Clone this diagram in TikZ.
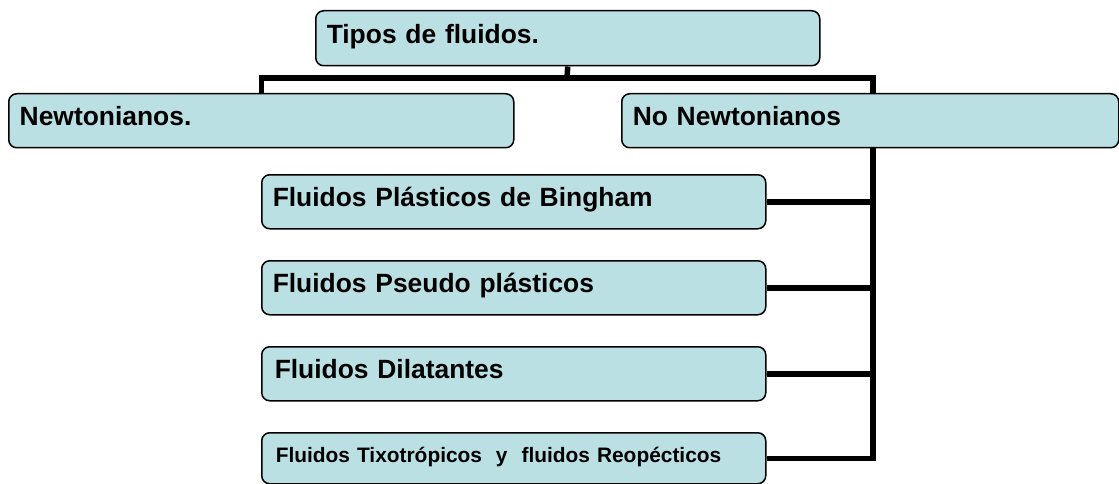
\documentclass[tikz,border=0pt]{standalone}
\usepackage{fontspec}
\setmainfont{Liberation Sans}
\definecolor{boxfill}{RGB}{187,224,227}
\begin{document}
\begin{tikzpicture}[x=1pt,y=-1pt,
  box/.style={draw=black, line width=1.5pt, fill=boxfill, rounded corners=8pt,
    anchor=north west, inner xsep=11pt, inner ysep=0pt, align=left,
    font=\fontsize{26.4}{30}\selectfont\bfseries, text height=20pt, text depth=10pt},
  conn/.style={line width=5.5pt}]
\useasboundingbox (0,0) rectangle (1119,484);
\node[box, text width=482pt, minimum height=55pt] (top) at (315,10) {Tipos de fluidos.};
\node[box, text width=483pt, minimum height=54pt] (newt) at (8,93) {Newtonianos.};
\node[box, text width=475pt, minimum height=54pt] (nonewt) at (621,93) {No Newtonianos};
\node[box, text width=482pt, minimum height=54pt] (bing) at (261,174) {Fluidos Plásticos de Bingham};
\node[box, text width=482pt, minimum height=54pt] (pseudo) at (261,260) {Fluidos Pseudo plásticos};
\node[box, text width=478pt, inner xsep=13pt, minimum height=54pt] (dilat) at (261,346) {Fluidos Dilatantes};
\node[box, text width=476pt, inner xsep=14pt, minimum height=51pt, font=\fontsize{20.9}{25}\selectfont\bfseries, text height=18pt, text depth=9pt] (tixo) at (261,432) {Fluidos Tixotrópicos\ \ y\ \ fluidos Reopécticos};
\coordinate (bar) at (567,78);
\coordinate (nnTop) at (873,93);
\coordinate (nnBot) at (873,147);
\draw[conn] (top.south) -- (bar);
\draw[conn] (newt.north) |- (bar) -| (nnTop);
\draw[conn] (nnBot) |- (tixo.east);
\draw[conn] (bing.east) -- (bing.east -| nnBot);
\draw[conn] (pseudo.east) -- (pseudo.east -| nnBot);
\draw[conn] (dilat.east) -- (dilat.east -| nnBot);
\end{tikzpicture}
\end{document}
